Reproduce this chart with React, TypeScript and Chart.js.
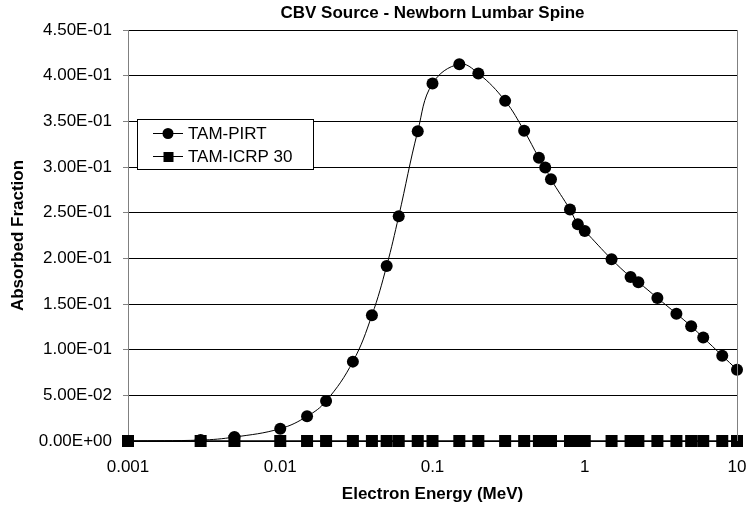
import React, { useEffect, useRef } from 'react';
import { Chart, registerables } from 'chart.js';

Chart.register(...registerables);

// ---- Data ----
const energies = [
  0.001, 0.003, 0.005, 0.01, 0.015, 0.02, 0.03, 0.04, 0.05, 0.06, 0.08,
  0.1, 0.15, 0.2, 0.3, 0.4, 0.5, 0.55, 0.6, 0.8, 0.9,
  1, 1.5, 2, 2.25, 3, 4, 5, 6, 8, 10,
];

const tamPirt = [
  0.0, 0.001, 0.0043, 0.0135, 0.027, 0.0437, 0.0869, 0.1376, 0.1917, 0.2461, 0.3392,
  0.3914, 0.4126, 0.4024, 0.3724, 0.3396, 0.31, 0.2994, 0.2866, 0.2534, 0.2373,
  0.23, 0.199, 0.1796, 0.1738, 0.1566, 0.1394, 0.1256, 0.1132, 0.0934, 0.0781,
];

const tamIcrp30 = [
  0, 0, 0, 0, 0, 0, 0, 0, 0, 0, 0,
  0, 0, 0, 0, 0, 0, 0, 0, 0, 0,
  0, 0, 0, 0, 0, 0, 0, 0, 0, 0,
];

const seriesLabels = ['TAM-PIRT', 'TAM-ICRP 30'];
const xTickValues = [0.001, 0.01, 0.1, 1, 10];
const xTickLabels = ['0.001', '0.01', '0.1', '1', '10'];
const titleText = 'CBV Source - Newborn Lumbar Spine';
const xTitle = 'Electron Energy (MeV)';
const yTitle = 'Absorbed Fraction';

const FONT = '"Liberation Sans", Arial, Helvetica, sans-serif';

function sci(v: number): string {
  const [m, e] = v.toExponential(2).split('e');
  const n = parseInt(e, 10);
  return `${m}E${n < 0 ? '-' : '+'}${String(Math.abs(n)).padStart(2, '0')}`;
}

const framePlugin = {
  id: 'frameAndLegend',
  afterDatasetsDraw(chart: any) {
    const { ctx, chartArea } = chart;
    ctx.save();
    // right border of plot area
    ctx.strokeStyle = '#808080';
    ctx.lineWidth = 1;
    const rx = Math.round(chartArea.right) + 0.5;
    ctx.beginPath();
    ctx.moveTo(rx, chartArea.top);
    ctx.lineTo(rx, chartArea.bottom);
    ctx.stroke();

    // chart title, centred over the plot area
    ctx.fillStyle = '#000';
    ctx.font = `bold 17px ${FONT}`;
    ctx.textAlign = 'center';
    ctx.textBaseline = 'middle';
    ctx.fillText(titleText, (chartArea.left + chartArea.right) / 2, 13);

    // legend box
    const bx = 137.5, by = 119.5, bw = 176, bh = 50;
    ctx.fillStyle = '#ffffff';
    ctx.fillRect(bx, by, bw, bh);
    ctx.strokeStyle = '#000000';
    ctx.strokeRect(bx, by, bw, bh);

    chart.data.datasets.forEach((ds: any, i: number) => {
      const y = 133 + i * 23;
      ctx.strokeStyle = '#000';
      ctx.lineWidth = 1;
      ctx.beginPath();
      ctx.moveTo(153, y + 0.5);
      ctx.lineTo(183, y + 0.5);
      ctx.stroke();
      ctx.fillStyle = '#000';
      if (ds.pointStyle === 'rect') {
        ctx.fillRect(163.5, y - 4, 10, 10);
      } else {
        ctx.beginPath();
        ctx.arc(168, y + 0.5, 5.5, 0, Math.PI * 2);
        ctx.fill();
      }
      ctx.font = `17px ${FONT}`;
      ctx.textBaseline = 'middle';
      ctx.textAlign = 'left';
      ctx.fillText(ds.label, 188, y + 1);
    });
    ctx.restore();
  },
};

export default function App() {
  const canvasRef = useRef<HTMLCanvasElement | null>(null);

  useEffect(() => {
    const canvas = canvasRef.current;
    if (!canvas) return;
    const pirtData = energies.map((x, i) => ({ x, y: tamPirt[i] }));
    const icrpData = energies.map((x, i) => ({ x, y: tamIcrp30[i] }));

    const chart = new Chart(canvas, {
      type: 'line',
      data: {
        datasets: [
          {
            label: seriesLabels[0],
            data: pirtData,
            borderColor: '#000',
            backgroundColor: '#000',
            borderWidth: 1,
            pointStyle: 'circle',
            pointRadius: 6,
            pointBorderWidth: 0,
            pointBackgroundColor: '#000',
            tension: 0.4,
            clip: false as any,
          },
          {
            label: seriesLabels[1],
            data: icrpData,
            borderColor: '#000',
            backgroundColor: '#000',
            borderWidth: 1.5,
            pointStyle: 'rect',
            pointRadius: 8.5,
            pointBorderWidth: 0,
            pointBackgroundColor: '#000',
            tension: 0,
            clip: false as any,
          },
        ],
      },
      options: {
        animation: false,
        responsive: false,
        devicePixelRatio: 1,
        layout: { padding: { left: 0, right: 10, top: 30, bottom: 0 } },
        plugins: {
          legend: { display: false },
          tooltip: { enabled: false },
          title: { display: false },
        },
        scales: {
          x: {
            type: 'logarithmic',
            min: 0.001,
            max: 10,
            afterBuildTicks: (scale: any) => {
              scale.ticks = xTickValues.map((v) => ({ value: v }));
            },
            afterFit: (scale: any) => {
              scale.height = 69;
              scale.paddingLeft = 0;
              scale.paddingRight = 0;
            },
            ticks: {
              autoSkip: false,
              maxRotation: 0,
              color: '#000',
              padding: 16,
              font: { family: FONT, size: 17, lineHeight: 1.2 },
              callback: (_v: any, i: number) => xTickLabels[i],
            },
            grid: { display: false, drawTicks: false },
            border: { display: true, color: '#000', width: 1 },
            title: {
              display: true,
              text: xTitle,
              color: '#000',
              font: { family: FONT, size: 17, weight: 'bold', lineHeight: 1.2 },
              padding: { top: 0, bottom: 5 },
            },
          },
          y: {
            type: 'linear',
            min: 0,
            max: 0.45,
            afterFit: (scale: any) => {
              scale.width = 128;
              scale.paddingTop = 0;
              scale.paddingBottom = 0;
            },
            ticks: {
              stepSize: 0.05,
              color: '#000',
              padding: 11,
              font: { family: FONT, size: 17, lineHeight: 1.2 },
              callback: (v: any) => sci(Number(v)),
            },
            grid: {
              color: '#000',
              lineWidth: 1,
              tickColor: '#808080',
              tickLength: 5,
              drawTicks: true,
            },
            border: { display: true, color: '#808080', width: 1 },
            title: {
              display: true,
              text: yTitle,
              color: '#000',
              font: { family: FONT, size: 17, weight: 'bold', lineHeight: 1.2 },
              padding: { top: 8, bottom: 0 },
            },
          },
        },
      } as any,
      plugins: [framePlugin],
    });

    return () => chart.destroy();
  }, []);

  return (
    <div style={{ position: 'fixed', left: 0, top: 0, width: 747, height: 510, background: '#fff' }}>
      <canvas ref={canvasRef} width={747} height={510} style={{ width: 747, height: 510, display: 'block' }} />
    </div>
  );
}
